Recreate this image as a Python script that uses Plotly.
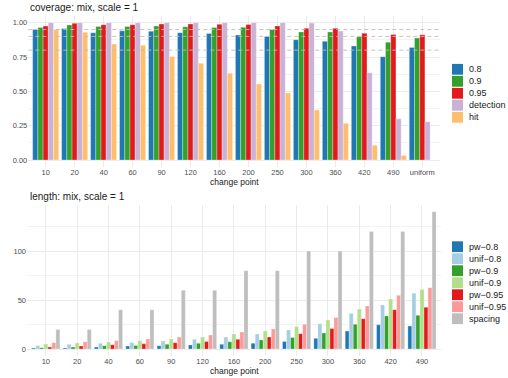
import plotly.graph_objects as go
from plotly.subplots import make_subplots

# coverage panel
cp_top = ["10", "20", "40", "60", "90", "120", "160", "200", "250", "300", "360", "420", "490", "uniform"]
cov_80 = [0.950, 0.958, 0.926, 0.941, 0.938, 0.927, 0.922, 0.910, 0.900, 0.876, 0.864, 0.830, 0.752, 0.820]
cov_90 = [0.965, 0.983, 0.973, 0.972, 0.975, 0.970, 0.965, 0.966, 0.951, 0.932, 0.932, 0.897, 0.858, 0.888]
cov_95 = [0.975, 0.995, 0.985, 0.985, 0.990, 0.990, 0.988, 0.986, 0.976, 0.959, 0.959, 0.923, 0.914, 0.912]
detection = [1.0, 1.0, 1.0, 1.0, 1.0, 1.0, 1.0, 1.0, 1.0, 0.997, 0.939, 0.636, 0.300, 0.279]
hit = [0.950, 0.931, 0.844, 0.836, 0.753, 0.705, 0.632, 0.553, 0.488, 0.364, 0.267, 0.107, 0.033, None]
ref_levels = [0.8, 0.9, 0.95]

# length panel
cp_bot = ["10", "20", "40", "60", "90", "120", "160", "200", "250", "300", "360", "420", "490"]
pw_80 = [1.0, 1.0, 2.0, 3.0, 3.4, 4.1, 4.8, 6.0, 7.7, 10.9, 18.4, 24.7, 23.5]
unif_80 = [3.7, 4.8, 5.8, 6.8, 8.2, 9.9, 12.2, 15.3, 19.4, 25.7, 36.4, 45.0, 57.0]
pw_90 = [1.4, 2.0, 3.4, 3.7, 4.8, 5.8, 7.5, 9.2, 11.8, 16.3, 25.2, 33.8, 34.4]
unif_90 = [5.1, 6.1, 7.1, 8.5, 10.2, 12.2, 15.3, 18.5, 23.0, 29.6, 40.8, 51.0, 60.8]
pw_95 = [2.0, 3.0, 4.4, 5.4, 6.5, 7.8, 9.9, 12.2, 15.6, 20.9, 31.0, 40.1, 42.7]
unif_95 = [6.5, 7.5, 8.5, 10.2, 12.2, 14.3, 17.3, 20.5, 25.3, 32.2, 43.9, 54.8, 62.6]
spacing = [20, 20, 40, 40, 60, 60, 80, 80, 100, 100, 120, 120, 140]

top_series = [("0.8", cov_80, "#1F78B4"), ("0.9", cov_90, "#33A02C"), ("0.95", cov_95, "#E31A1C"),
              ("detection", detection, "#CAB2D6"), ("hit", hit, "#FDBF6F")]
bot_series = [("pw\u22120.8", pw_80, "#1F78B4"), ("unif\u22120.8", unif_80, "#A6CEE3"),
              ("pw\u22120.9", pw_90, "#33A02C"), ("unif\u22120.9", unif_90, "#B2DF8A"),
              ("pw\u22120.95", pw_95, "#E31A1C"), ("unif\u22120.95", unif_95, "#FB9A99"),
              ("spacing", spacing, "#BEBEBE")]

W, H = 508, 378
FONT = "Liberation Sans"


def fx(px):
    return px / W


def fy(py):
    return 1 - py / H


fig = make_subplots(rows=2, cols=1)

for name, vals, col in top_series:
    fig.add_trace(go.Bar(x=cp_top, y=vals, name=name, marker_color=col,
                         marker_line=dict(color="white", width=0.3), showlegend=False), row=1, col=1)
for name, vals, col in bot_series:
    fig.add_trace(go.Bar(x=cp_bot, y=vals, name=name, marker_color=col,
                         marker_line=dict(color="white", width=0.3), showlegend=False), row=2, col=1)

for lvl in ref_levels:
    fig.add_hline(y=lvl, line=dict(color="#BDBDBD", width=0.9, dash="4px,3px"), layer="above", row=1, col=1)

grid = "#EBEBEB"
tickfont = dict(family=FONT, size=7.5, color="#4D4D4D")

fig.update_xaxes(type="category", showgrid=True, gridcolor=grid, gridwidth=0.8, zeroline=False,
                 showline=False, ticks="", tickfont=tickfont)
fig.update_yaxes(showgrid=True, gridcolor=grid, gridwidth=0.8, zeroline=False, showline=False,
                 ticks="", tickfont=tickfont)

fig.update_xaxes(domain=[fx(28.3), fx(439.7)], range=[-0.6, len(cp_top) - 0.4], row=1, col=1)
fig.update_yaxes(domain=[fy(166.9), fy(15.8)], range=[-0.05, 1.05], tickvals=[0, 0.25, 0.5, 0.75, 1.0],
                 tickformat=".2f", minor=dict(dtick=0.125, tick0=0, showgrid=True, gridcolor="#F2F2F2", gridwidth=0.5),
                 row=1, col=1)
fig.update_xaxes(domain=[fx(27.0), fx(440.8)], range=[-0.6, len(cp_bot) - 0.4], row=2, col=1)
fig.update_yaxes(domain=[fy(355.9), fy(205.0)], range=[-7, 147], tickvals=[0, 50, 100],
                 minor=dict(dtick=25, tick0=0, showgrid=True, gridcolor="#F2F2F2", gridwidth=0.5),
                 row=2, col=1)

annots = [
    dict(text="coverage: mix, scale = 1", x=fx(28), y=fy(7.5), xanchor="left", yanchor="middle",
         font=dict(family=FONT, size=10, color="#1A1A1A")),
    dict(text="change point", x=fx(234), y=fy(181.5), xanchor="center", yanchor="middle",
         font=dict(family=FONT, size=8.5, color="#1A1A1A")),
    dict(text="length: mix, scale = 1", x=fx(28), y=fy(196.5), xanchor="left", yanchor="middle",
         font=dict(family=FONT, size=10, color="#1A1A1A")),
    dict(text="change point", x=fx(234), y=fy(370.5), xanchor="center", yanchor="middle",
         font=dict(family=FONT, size=8.5, color="#1A1A1A")),
]

shapes = []
# hand-made legends (ggplot-style, tight key spacing)
for series, y0 in [(top_series, 69.3), (bot_series, 246.7)]:
    for i, (name, _, col) in enumerate(series):
        yc = y0 + 12 * i
        shapes.append(dict(type="rect", xref="paper", yref="paper", x0=fx(452), x1=fx(463),
                           y0=fy(yc + 5.4), y1=fy(yc - 5.4), fillcolor=col, line=dict(width=0)))
        annots.append(dict(text=name, x=fx(467), y=fy(yc), xanchor="left", yanchor="middle",
                           font=dict(family=FONT, size=9, color="#1A1A1A")))

for a in annots:
    a.update(xref="paper", yref="paper", showarrow=False)

fig.update_layout(width=W, height=H, margin=dict(l=0, r=0, t=0, b=0), barmode="group",
                  bargap=0.1, bargroupgap=0, plot_bgcolor="white", paper_bgcolor="white",
                  annotations=annots, shapes=list(fig.layout.shapes) + shapes,
                  font=dict(family=FONT))

fig.write_html("out.html", config={"displayModeBar": False},
               post_script="document.body.style.margin='0';")
